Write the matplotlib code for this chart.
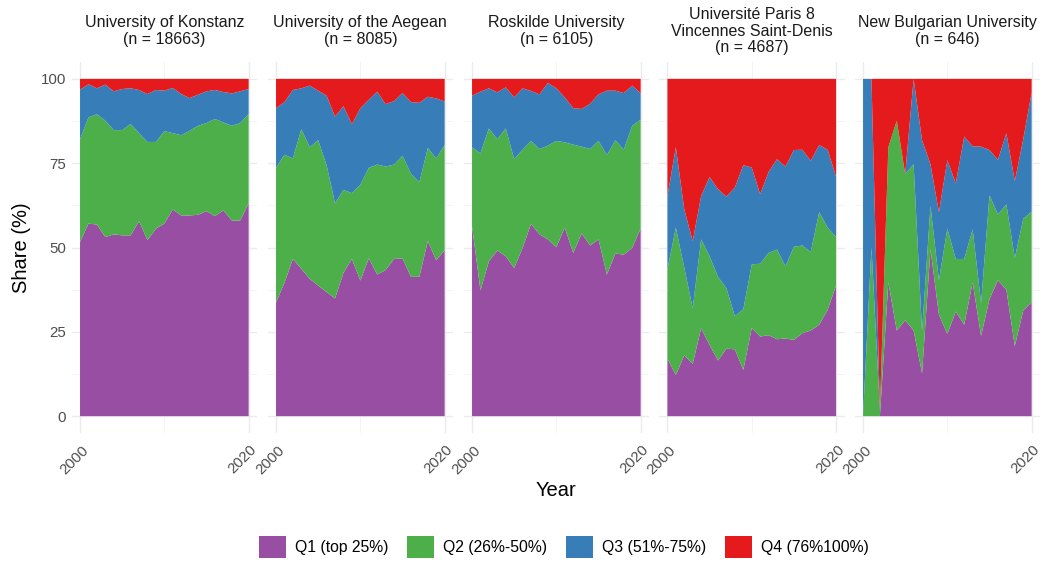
import numpy as np
import matplotlib
matplotlib.use("Agg")
import matplotlib.pyplot as plt
import matplotlib.transforms as mtransforms
from matplotlib.patches import Patch

plt.rcParams["font.family"] = ["Liberation Sans", "DejaVu Sans"]

years = list(range(2000, 2021))

titles = [
    "University of Konstanz\n(n = 18663)",
    "University of the Aegean\n(n = 8085)",
    "Roskilde University\n(n = 6105)",
    "Université Paris 8\nVincennes Saint-Denis\n(n = 4687)",
    "New Bulgarian University\n(n = 646)",
]

quartile_labels = ["Q1 (top 25%)", "Q2 (26%-50%)", "Q3 (51%-75%)", "Q4 (76%100%)"]
colors = ["#984EA3", "#4DAF4A", "#377EB8", "#E41A1C"]

# cumulative upper edges (%) of Q1, Q1+Q2, Q1+Q2+Q3; Q4 fills up to 100
konstanz_q1 = [51.6, 57.1, 56.8, 53.1, 53.9, 53.6, 53.6, 57.8, 52.2, 55.6, 57.1,
               61.3, 59.5, 59.5, 59.7, 60.8, 59.3, 61.0, 58.0, 58.0, 63.1]
konstanz_q2 = [82.1, 88.6, 89.5, 87.6, 84.8, 84.8, 86.6, 83.9, 81.3, 81.3, 84.5,
               83.9, 83.3, 84.6, 86.1, 86.9, 88.1, 87.1, 86.1, 86.9, 89.6]
konstanz_q3 = [96.8, 98.4, 97.2, 98.3, 96.3, 97.0, 97.2, 96.7, 95.5, 96.7, 96.5,
               97.3, 95.5, 94.3, 95.3, 96.3, 96.7, 96.1, 95.7, 96.3, 97.0]

aegean_q1 = [33.7, 39.5, 46.6, 43.7, 40.7, 38.7, 36.8, 34.9, 42.5, 46.6, 40.2,
             46.8, 42.0, 43.3, 46.6, 46.8, 41.3, 41.3, 51.9, 46.2, 49.2]
aegean_q2 = [73.6, 77.5, 76.4, 85.1, 79.7, 81.8, 74.4, 63.1, 67.1, 66.1, 68.6,
             73.6, 74.6, 74.0, 74.6, 77.2, 71.9, 69.4, 79.5, 76.4, 80.4]
aegean_q3 = [91.3, 93.1, 96.7, 97.2, 98.0, 96.5, 95.0, 88.8, 91.9, 86.5, 91.3,
             93.8, 96.2, 92.5, 93.4, 95.8, 93.1, 92.9, 94.7, 94.2, 93.3]

roskilde_q1 = [56.3, 37.3, 45.9, 49.1, 47.4, 43.9, 49.9, 57.0, 53.9, 52.4, 50.1,
               55.9, 48.4, 54.2, 50.6, 52.4, 42.0, 48.2, 47.9, 49.9, 55.7]
roskilde_q2 = [79.7, 77.9, 85.3, 82.1, 85.3, 76.2, 79.0, 81.6, 79.2, 80.2, 81.6,
               81.2, 80.5, 79.9, 79.2, 81.6, 77.4, 81.8, 79.0, 86.1, 87.9]
roskilde_q3 = [95.0, 96.2, 97.2, 96.0, 97.5, 94.5, 97.2, 96.4, 95.4, 98.8, 97.2,
               94.5, 91.3, 91.1, 92.6, 95.4, 96.5, 96.5, 95.8, 98.0, 95.7]

paris_q1 = [17.0, 12.2, 18.0, 15.5, 26.1, 21.1, 16.5, 20.0, 19.8, 13.7, 26.1,
            23.6, 24.0, 22.8, 23.0, 22.6, 24.6, 25.4, 27.1, 31.5, 38.7]
paris_q2 = [43.5, 55.9, 44.0, 32.0, 52.4, 47.4, 41.3, 37.9, 29.6, 31.7, 45.0,
            45.2, 48.4, 49.4, 44.4, 50.2, 50.6, 48.7, 60.5, 55.9, 53.1]
paris_q3 = [65.3, 79.7, 61.3, 51.9, 65.3, 70.9, 67.3, 65.1, 67.8, 74.4, 73.7,
            65.8, 72.4, 76.2, 74.0, 78.9, 79.0, 75.7, 80.4, 79.0, 71.0]

nbu_q1 = [0.0, 0.0, 0.0, 39.7, 25.4, 28.4, 25.4, 12.7, 49.6, 30.1, 24.4,
          31.0, 27.1, 39.7, 23.8, 34.7, 40.3, 37.5, 20.8, 31.3, 33.8]
nbu_q2 = [0.0, 50.0, 2.0, 79.7, 87.6, 71.7, 74.7, 25.1, 62.3, 40.3, 55.6,
          46.6, 46.6, 55.4, 33.5, 65.5, 59.8, 62.8, 46.9, 58.5, 60.6]
nbu_q3 = [100.0, 100.0, 2.0, 79.7, 87.6, 71.7, 100.0, 81.8, 74.7, 60.5, 75.9,
          69.0, 82.9, 80.0, 79.9, 78.9, 76.0, 83.9, 69.7, 82.1, 96.0]

panels = [
    (konstanz_q1, konstanz_q2, konstanz_q3),
    (aegean_q1, aegean_q2, aegean_q3),
    (roskilde_q1, roskilde_q2, roskilde_q3),
    (paris_q1, paris_q2, paris_q3),
    (nbu_q1, nbu_q2, nbu_q3),
]

W, H = 1045, 563
fig = plt.figure(figsize=(W / 100, H / 100), dpi=100)

panel_left = [71.6, 267.6, 463.6, 659.0, 854.6]
panel_w = 185.5
panel_top, panel_bottom = 62, 433

grey = "#4D4D4D"
for i, (title, edges) in enumerate(zip(titles, panels)):
    ax = fig.add_axes([panel_left[i] / W, 1 - panel_bottom / H,
                       panel_w / W, (panel_bottom - panel_top) / H])
    cum = np.vstack([np.zeros(len(years))] + [np.array(e) for e in edges]
                    + [np.full(len(years), 100.0)])
    shares = np.diff(cum, axis=0)
    ax.stackplot(years, *shares, colors=colors, linewidth=0, zorder=2)

    ax.set_xlim(1999, 2021)
    ax.set_ylim(-5, 105)
    ax.set_xticks([2000, 2020])
    ax.set_xticks([2010], minor=True)
    ax.set_yticks([0, 25, 50, 75, 100])
    ax.set_yticks([12.5, 37.5, 62.5, 87.5], minor=True)
    ax.grid(which="major", color="#EBEBEB", linewidth=1.0, zorder=0)
    ax.grid(which="minor", color="#F2F2F2", linewidth=0.6, zorder=0)
    ax.set_axisbelow(True)
    for s in ax.spines.values():
        s.set_visible(False)
    ax.tick_params(which="both", length=0)
    ax.tick_params(axis="x", labelsize=10.8, labelcolor=grey, pad=2)
    ax.tick_params(axis="y", labelsize=10.8, labelcolor=grey, pad=4)
    if i > 0:
        ax.set_yticklabels([])

    offset = mtransforms.ScaledTranslation(1 / 100, -7 / 100, fig.dpi_scale_trans)
    for lab in ax.get_xticklabels():
        lab.set_rotation(45)
        lab.set_ha("right")
        lab.set_va("top")
        lab.set_rotation_mode("anchor")
        lab.set_transform(lab.get_transform() + offset)

    # facet strip text, centred vertically in a strip of equal height
    fig.text((panel_left[i] + panel_w / 2) / W, 1 - 31 / H, title,
             ha="center", va="center", multialignment="center",
             fontsize=11.5, color="#1A1A1A", linespacing=1.12)

fig.text(556 / W, 1 - 491 / H, "Year", ha="center", va="center", fontsize=14.5)
fig.text(22 / W, 1 - 248 / H, "Share (%)", ha="center", va="center",
         rotation=90, fontsize=14.5)

handles = [Patch(facecolor=c, edgecolor="none") for c in colors]
fig.legend(handles, quartile_labels, loc="center", bbox_to_anchor=(564 / W, 1 - 547 / H),
           ncol=4, frameon=False, fontsize=11.3, handlelength=1.7, handleheight=1.7,
           handletextpad=0.6, columnspacing=1.2)

fig.savefig("out.png", dpi=100)
